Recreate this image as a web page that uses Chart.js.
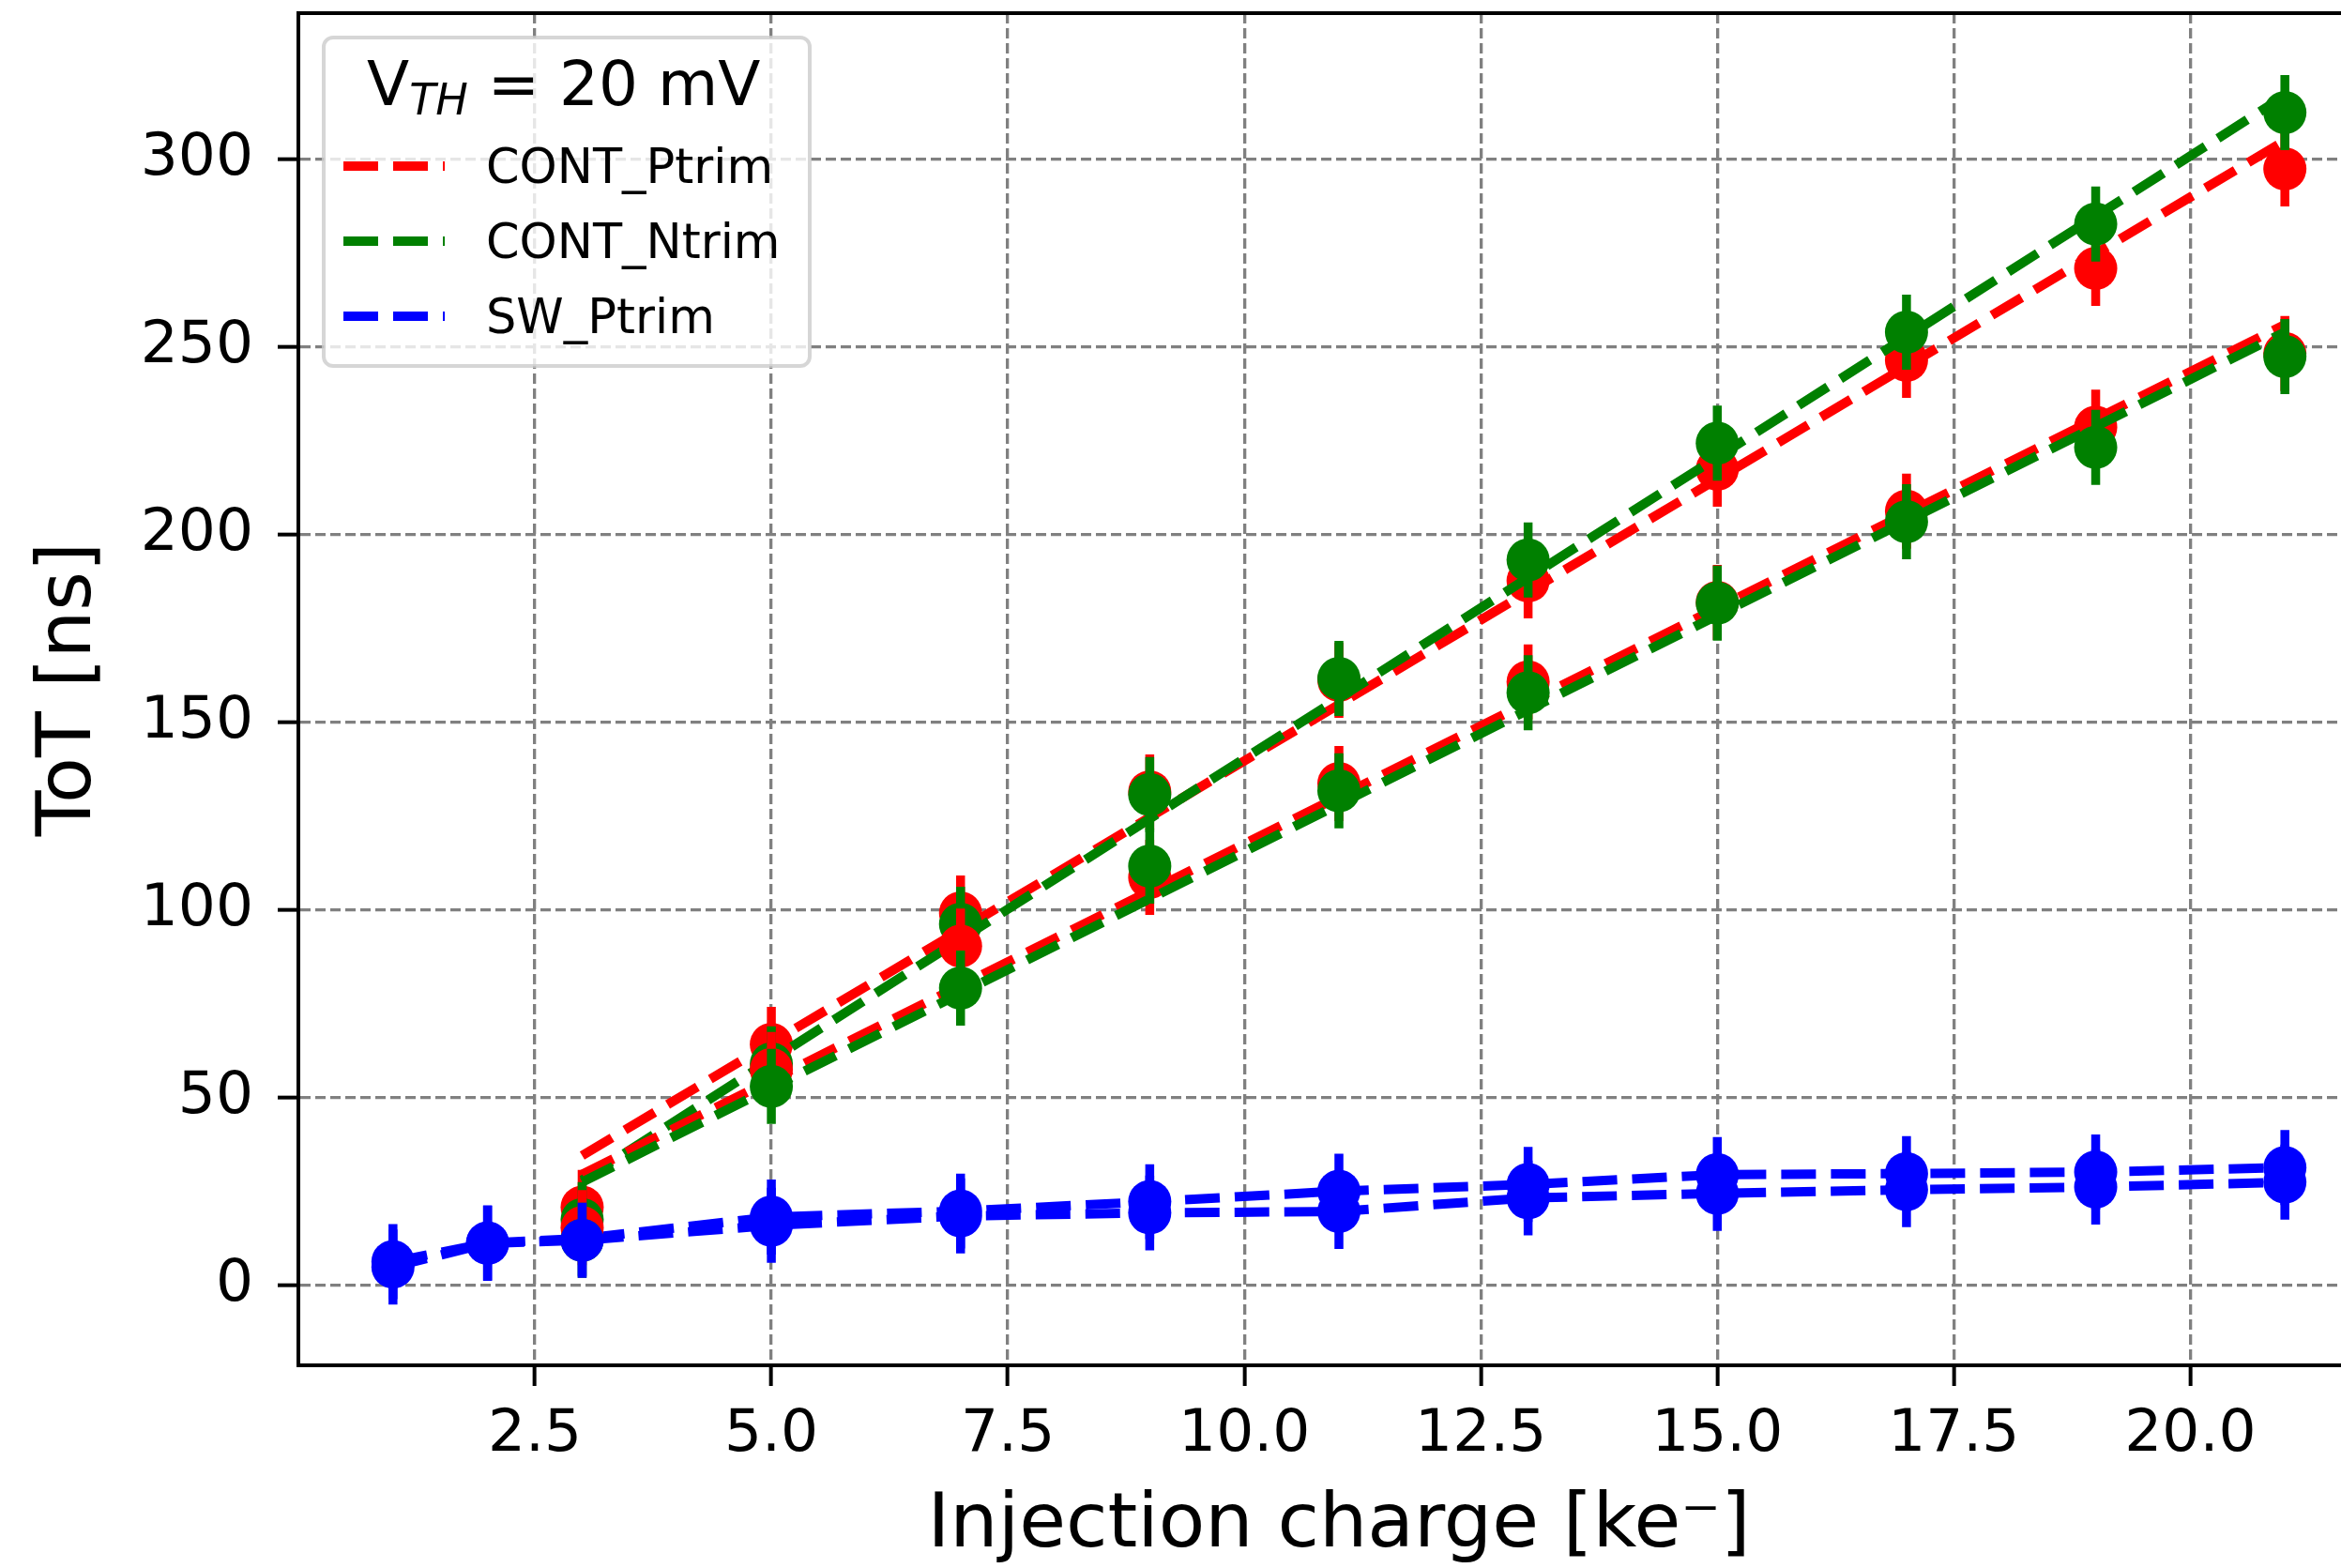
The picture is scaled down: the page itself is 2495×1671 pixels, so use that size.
<!DOCTYPE html>
<html>
<head>
<meta charset="utf-8">
<script src="https://cdn.jsdelivr.net/npm/chart.js@4.4.1/dist/chart.umd.min.js"></script>
<style>
  html, body { margin: 0; padding: 0; background: #ffffff; overflow: hidden; }
  canvas { display: block; }
</style>
</head>
<body>
<canvas id="tot-chart" width="2600" height="1671"></canvas>
<script>
// injection charge values (ke-)
const chargeCont = [3, 5, 7, 9, 11, 13, 15, 17, 19, 21];
const chargeSw = [1, 2, 3, 5, 7, 9, 11, 13, 15, 17, 19, 21];

// measured ToT (ns), first and second set of each flavour
const contPtrimA = [20.8, 64.2, 99.2, 131.5, 161.2, 187.7, 217.5, 246.5, 271, 297.5];
const contNtrimA = [17.5, 59, 96.2, 130.8, 161.7, 193.3, 224.4, 254, 282.8, 312.5];
const swPtrimA = [6.3, 11.3, 12.5, 18.2, 19.8, 22.3, 25.1, 26.9, 29.5, 29.8, 30.2, 31.4];
const contPtrimB = [15.4, 57.5, 90.4, 108.7, 133.7, 160.8, 182, 206.3, 228.7, 248.3];
const contNtrimB = [12, 53, 79.2, 111.7, 131.8, 157.9, 181.8, 203.5, 223.3, 247.5];
const swPtrimB = [4.9, 11.2, 12, 16, 18.5, 19.3, 19.7, 23.3, 24.5, 25.5, 26.2, 27.5];

// error bars (ns)
const errCont = [10, 10, 10, 10, 10, 10, 10, 10, 10, 10];
const errSw = [10, 10, 10, 10, 10, 10, 10, 10, 10, 10, 10, 10];

// linear fits, end points at 3 and 21 ke-
const fitCharge = [3, 21];
const fitPtrimA = [34.6, 305];
const fitNtrimA = [28, 317];
const fitPtrimB = [29.6, 256];
const fitNtrimB = [27.5, 254];

const xTicks = [2.5, 5, 7.5, 10, 12.5, 15, 17.5, 20];
const yTicks = [0, 50, 100, 150, 200, 250, 300];

const legendLabels = ['CONT_Ptrim', 'CONT_Ntrim', 'SW_Ptrim'];
const legendColors = ['#ff0000', '#008000', '#0000ff'];

const FONT = '"DejaVu Sans", sans-serif';
const DASH = [37, 16];

const toPoints = (xs, ys) => xs.map((x, i) => ({ x: x, y: ys[i] }));

function markers(xs, ys, errs, color) {
    return {
        data: toPoints(xs, ys),
        errors: errs,
        showLine: false,
        backgroundColor: color,
        borderColor: color,
        pointRadius: 23,
        pointBorderWidth: 0
    };
}

function fitLine(ys, color) {
    return {
        data: toPoints(fitCharge, ys),
        showLine: true,
        borderColor: color,
        backgroundColor: color,
        borderWidth: 10,
        borderDash: DASH,
        pointRadius: 0
    };
}

function swSeries(ys, color) {
    const ds = markers(chargeSw, ys, errSw, color);
    ds.showLine = true;
    ds.borderWidth = 10;
    ds.borderDash = DASH;
    return ds;
}

const datasets = [
    markers(chargeCont, contPtrimA, errCont, '#ff0000'),
    fitLine(fitPtrimA, '#ff0000'),
    markers(chargeCont, contNtrimA, errCont, '#008000'),
    fitLine(fitNtrimA, '#008000'),
    swSeries(swPtrimA, '#0000ff'),
    markers(chargeCont, contPtrimB, errCont, '#ff0000'),
    fitLine(fitPtrimB, '#ff0000'),
    markers(chargeCont, contNtrimB, errCont, '#008000'),
    fitLine(fitNtrimB, '#008000'),
    swSeries(swPtrimB, '#0000ff')
];
// first dataset at the bottom, like matplotlib
datasets.forEach((ds, i) => { ds.order = datasets.length - i; });

// vertical error bars, drawn just under each marker set
const errorBars = {
    id: 'errorBars',
    beforeDatasetDraw(chart, args) {
        const ds = chart.data.datasets[args.index];
        if (!ds.errors) return;
        const y = chart.scales.y;
        const ctx = chart.ctx;
        ctx.save();
        ctx.strokeStyle = ds.backgroundColor;
        ctx.lineWidth = 9.5;
        ctx.beginPath();
        args.meta.data.forEach((pt, i) => {
            const v = ds.data[i].y;
            const e = ds.errors[i];
            ctx.moveTo(pt.x, y.getPixelForValue(v - e));
            ctx.lineTo(pt.x, y.getPixelForValue(v + e));
        });
        ctx.stroke();
        ctx.restore();
    }
};

// top spine and the legend box with its V_TH title
const frameAndLegend = {
    id: 'frameAndLegend',
    afterDraw(chart) {
        const ctx = chart.ctx;
        const area = chart.chartArea;
        ctx.save();
        ctx.strokeStyle = '#000000';
        ctx.lineWidth = 4;
        ctx.beginPath();
        ctx.moveTo(area.left - 2, area.top);
        ctx.lineTo(area.right, area.top);
        ctx.stroke();

        ctx.beginPath();
        ctx.roundRect(345, 40, 518, 350, 10);
        ctx.fillStyle = 'rgba(255,255,255,0.8)';
        ctx.fill();
        ctx.strokeStyle = 'rgba(204,204,204,0.8)';
        ctx.lineWidth = 4;
        ctx.stroke();

        ctx.fillStyle = '#000000';
        ctx.textBaseline = 'alphabetic';
        ctx.textAlign = 'left';
        let x = 391;
        ctx.font = '66px ' + FONT;
        ctx.fillText('V', x, 112);
        x += ctx.measureText('V').width;
        ctx.font = 'italic 46px ' + FONT;
        ctx.fillText('TH', x, 122);
        x += ctx.measureText('TH').width;
        ctx.font = '66px ' + FONT;
        ctx.fillText(' = 20 mV', x, 112);

        legendLabels.forEach((label, i) => {
            const yc = 177 + i * 80;
            ctx.strokeStyle = legendColors[i];
            ctx.lineWidth = 10;
            ctx.setLineDash(DASH);
            ctx.beginPath();
            ctx.moveTo(366, yc);
            ctx.lineTo(474, yc);
            ctx.stroke();
            ctx.setLineDash([]);
            ctx.font = '51px ' + FONT;
            ctx.fillStyle = '#000000';
            ctx.fillText(label, 518, yc + 18);
        });
        ctx.restore();
    }
};

const ctx = document.getElementById('tot-chart').getContext('2d');
new Chart(ctx, {
    type: 'scatter',
    data: { datasets: datasets },
    options: {
        responsive: false,
        animation: false,
        devicePixelRatio: 1,
        events: [],
        layout: {
            autoPadding: false,
            padding: { top: 14, right: 64, left: 0, bottom: 0 }
        },
        plugins: {
            legend: { display: false },
            tooltip: { enabled: false }
        },
        scales: {
            x: {
                type: 'linear',
                min: 0,
                max: 22,
                afterFit: (scale) => {
                    scale.height = 216;
                    scale.paddingLeft = 0;
                    scale.paddingRight = 0;
                },
                afterBuildTicks: (scale) => { scale.ticks = xTicks.map(v => ({ value: v })); },
                ticks: {
                    color: '#000000',
                    padding: 15,
                    font: { family: FONT, size: 63 },
                    callback: (v) => Number(v).toFixed(1)
                },
                grid: {
                    color: '#808080',
                    lineWidth: 3.3,
                    tickLength: 22,
                    tickColor: '#000000',
                    tickWidth: 4
                },
                border: { color: '#000000', width: 4, dash: [11, 5] },
                title: {
                    display: true,
                    text: 'Injection charge [ke\u207B]',
                    color: '#000000',
                    font: { family: FONT, size: 81, lineHeight: 1 },
                    padding: { top: 0, bottom: 4 }
                }
            },
            y: {
                type: 'linear',
                min: -21.3,
                max: 339,
                afterFit: (scale) => {
                    scale.width = 318;
                    scale.paddingTop = 0;
                    scale.paddingBottom = 0;
                },
                afterBuildTicks: (scale) => { scale.ticks = yTicks.map(v => ({ value: v })); },
                ticks: {
                    color: '#000000',
                    padding: 26,
                    font: { family: FONT, size: 63 }
                },
                grid: {
                    color: '#808080',
                    lineWidth: 3.3,
                    tickLength: 22,
                    tickColor: '#000000',
                    tickWidth: 4
                },
                border: { color: '#000000', width: 4, dash: [11, 5] },
                title: {
                    display: true,
                    text: 'ToT [ns]',
                    color: '#000000',
                    font: { family: FONT, size: 80, lineHeight: 1.2 },
                    padding: { top: 27, bottom: 0 }
                }
            }
        }
    },
    plugins: [errorBars, frameAndLegend]
});
</script>
</body>
</html>
